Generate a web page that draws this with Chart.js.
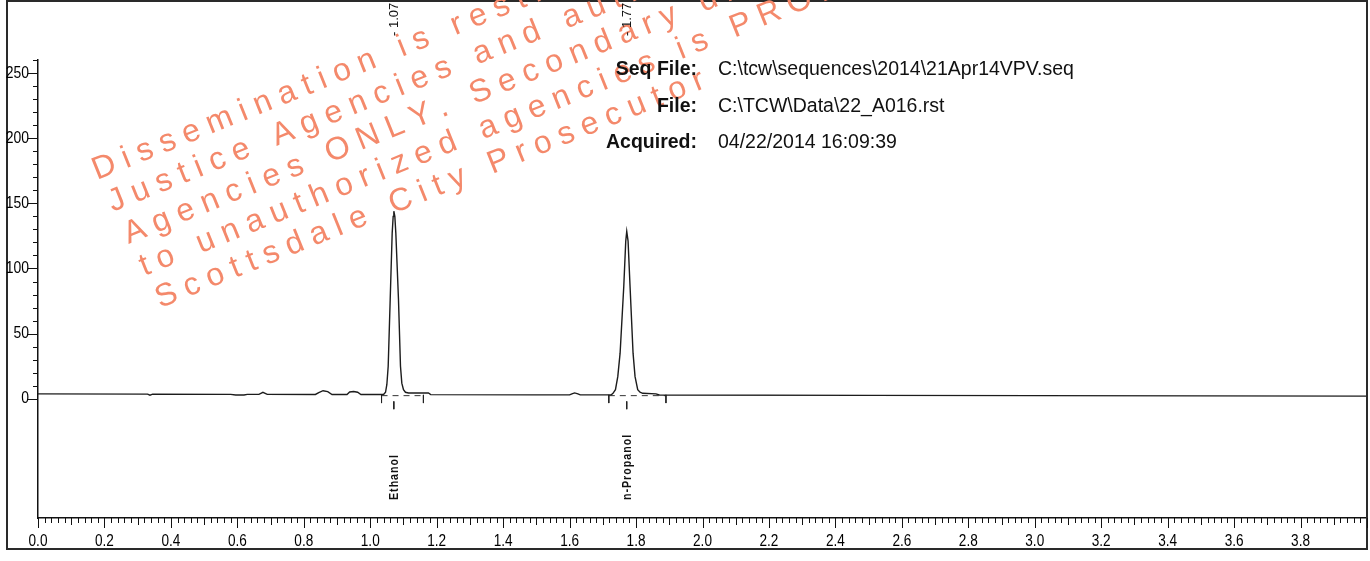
<!DOCTYPE html>
<html><head><meta charset="utf-8">
<script src="https://cdn.jsdelivr.net/npm/chart.js@4.4.1/dist/chart.umd.min.js"></script>
<style>html,body{margin:0;padding:0;background:#fff;overflow:hidden}#wrap{position:relative;width:1370px;height:561px}</style>
</head><body><div id="wrap"><canvas id="c" width="1370" height="561"></canvas></div>
<script>
// ---- data ----
const retentionTime = [0.00,0.33,0.337,0.345,0.58,0.595,0.62,0.63,0.665,0.677,0.69,0.835,0.845,0.858,0.872,0.885,0.93,0.938,0.95,0.962,0.972,
  1.040,1.046,1.050,1.054,1.060,1.066,1.069,1.071,1.074,1.077,1.085,1.091,1.095,1.100,1.106,1.115,1.175,1.182,
  1.50,1.60,1.607,1.615,1.625,1.632,1.725,1.730,1.738,1.745,1.752,1.763,1.769,1.772,1.776,1.782,1.791,1.797,1.805,1.812,1.820,1.860,1.870,
  2.50,3.50,4.00];
const signal = [3.8,3.6,2.8,3.6,3.4,2.9,2.9,3.4,3.4,4.9,3.4,3.3,4.8,6.2,5.5,3.3,3.3,5.2,5.6,5.0,3.3,
  3.3,5,11,25,76,127,140,144,140,127,76,25,12,7,5,4.4,4.4,3.2,
  3.0,3.0,3.8,4.5,3.8,3.0,3.0,4,7,17,35,86,121,128.5,121,86,35,17,7,5,4.2,3.8,2.9,
  2.6,2.2,2.0];
const peakApex = [1.071, 1.772];
const peakStart = [1.034, 1.718];
const peakEnd = [1.160, 1.890];
const peakLabels = ['- 1.07', '- 1.77'];
const compoundNames = ['Ethanol', 'n-Propanol'];
const xTickValues = [0.0,0.2,0.4,0.6,0.8,1.0,1.2,1.4,1.6,1.8,2.0,2.2,2.4,2.6,2.8,3.0,3.2,3.4,3.6,3.8];
const yTickValues = [0,50,100,150,200,250];
const headerLabels = ['Seq File:', 'File:', 'Acquired:'];
const headerValues = ['C:\\tcw\\sequences\\2014\\21Apr14VPV.seq', 'C:\\TCW\\Data\\22_A016.rst', '04/22/2014 16:09:39'];
const watermarkLines = [
  'Dissemination is restricted to Criminal',
  'Justice Agencies and authorized',
  'Agencies ONLY. Secondary dissemination',
  'to unauthorized agencies is PROHIBITED.',
  'Scottsdale City Prosecutor'
];

// ---- build datasets from arrays ----
const tracePts = retentionTime.map((t,i)=>({x:t, y:signal[i]}));
const markerPts = [];
peakStart.forEach((s,i)=>{
  markerPts.push({x:s,y:3},{x:s,y:-3.3},{x:s,y:null});
  markerPts.push({x:peakEnd[i],y:3},{x:peakEnd[i],y:-3.3},{x:peakEnd[i],y:null});
  markerPts.push({x:peakApex[i],y:-2},{x:peakApex[i],y:-8},{x:peakApex[i],y:null});
});
const basePts = [];
peakStart.forEach((s,i)=>{ basePts.push({x:s,y:2.4},{x:peakEnd[i],y:2.4},{x:peakEnd[i],y:null}); });

const SANS = "'Liberation Sans',Arial,sans-serif";

function spacedText(ctx, text, x, y, sp){
  let cx = x;
  for (const ch of text){ ctx.fillText(ch, cx, y); cx += ctx.measureText(ch).width + sp; }
}

const decor = {
  id: 'decor',
  afterDraw(chart){
    const ctx = chart.ctx, xs = chart.scales.x, ys = chart.scales.y, a = chart.chartArea;
    ctx.save();
    // outer frame
    ctx.strokeStyle = '#2a2a2a'; ctx.lineWidth = 2;
    ctx.strokeRect(7, 1, 1360, 548);
    // x ticks
    ctx.strokeStyle = '#111'; ctx.lineWidth = 1;
    ctx.beginPath();
    for (let i = 0; i <= 200; i++){
      const px = Math.round(xs.getPixelForValue(i*0.02)) + 0.5;
      const len = i%10===0 ? 10 : (i%5===0 ? 7 : 5);
      ctx.moveTo(px, a.bottom); ctx.lineTo(px, a.bottom + len);
    }
    // y ticks
    for (let v = 0; v <= 260; v += 10){
      const py = Math.round(ys.getPixelForValue(v)) + 0.5;
      const len = v%50===0 ? 10 : 5;
      ctx.moveTo(a.left, py); ctx.lineTo(a.left - len, py);
    }
    ctx.stroke();
    // tick labels (narrow)
    ctx.fillStyle = '#000';
    ctx.font = '17px ' + SANS;
    ctx.textBaseline = 'middle';
    xTickValues.forEach(v=>{
      ctx.save();
      ctx.translate(xs.getPixelForValue(v), 541);
      ctx.scale(0.8, 1);
      ctx.textAlign = 'center';
      ctx.fillText(v.toFixed(1), 0, 0);
      ctx.restore();
    });
    yTickValues.forEach(v=>{
      ctx.save();
      ctx.translate(a.left - 9, ys.getPixelForValue(v));
      ctx.scale(0.82, 1);
      ctx.textAlign = 'right';
      ctx.fillText(String(v), 0, 0);
      ctx.restore();
    });
    // watermark
    ctx.save();
    ctx.translate(97, 180);
    ctx.rotate(-22*Math.PI/180);
    ctx.fillStyle = '#f4896b';
    ctx.font = '32px ' + SANS;
    ctx.textBaseline = 'alphabetic'; ctx.textAlign = 'left';
    watermarkLines.forEach((ln, i)=> spacedText(ctx, ln, i*2.6, i*35.6, 8.5));
    ctx.restore();
    // peak retention labels (top)
    ctx.fillStyle = '#111';
    ctx.font = '13px ' + SANS;
    peakApex.forEach((t,i)=>{
      ctx.save();
      ctx.translate(xs.getPixelForValue(t) + 1, 36);
      ctx.rotate(-Math.PI/2);
      ctx.textAlign = 'left'; ctx.textBaseline = 'middle';
      ctx.fillText(peakLabels[i], 0, 0);
      ctx.restore();
    });
    // compound names
    ctx.font = 'bold 13px ' + SANS;
    peakApex.forEach((t,i)=>{
      ctx.save();
      ctx.translate(xs.getPixelForValue(t) + 1, 500);
      ctx.rotate(-Math.PI/2);
      ctx.scale(0.82, 1);
      ctx.textAlign = 'left'; ctx.textBaseline = 'middle';
      spacedText(ctx, compoundNames[i], 0, 0, 1.2);
      ctx.restore();
    });
    // header
    ctx.textBaseline = 'middle';
    headerLabels.forEach((lab,i)=>{
      const y = 70 + i*36.5;
      ctx.font = 'bold 19.5px ' + SANS; ctx.textAlign = 'right';
      ctx.fillText(lab, 697, y);
      ctx.font = '19.5px ' + SANS; ctx.textAlign = 'left';
      ctx.fillText(headerValues[i], 718, y);
    });
    ctx.restore();
  }
};

new Chart(document.getElementById('c'), {
  type: 'line',
  data: { datasets: [
    { data: tracePts, borderColor: '#1c1c1c', borderWidth: 1.4, pointRadius: 0, tension: 0, fill: false },
    { data: markerPts, borderColor: '#222', borderWidth: 1, pointRadius: 0, tension: 0, spanGaps: false },
    { data: basePts, borderColor: '#333', borderWidth: 1, borderDash: [6,5], pointRadius: 0, tension: 0, spanGaps: false }
  ]},
  options: {
    responsive: false, animation: false, devicePixelRatio: 1,
    layout: { padding: { left: 7, right: 3, top: 60, bottom: 0 } },
    plugins: { legend: { display: false }, tooltip: { enabled: false } },
    scales: {
      x: {
        type: 'linear', min: 0, max: 4,
        afterBuildTicks: s => { s.ticks = xTickValues.map(v => ({ value: v })); },
        afterFit: s => { s.height = 43; },
        ticks: { display: false },
        grid: { drawOnChartArea: false, drawTicks: false },
        border: { display: true, color: '#111', width: 1.5 }
      },
      y: {
        min: -91.5, max: 260,
        afterBuildTicks: s => { s.ticks = yTickValues.map(v => ({ value: v })); },
        afterFit: s => { s.width = 31; },
        ticks: { display: false },
        grid: { drawOnChartArea: false, drawTicks: false },
        border: { display: true, color: '#111', width: 1.5 }
      }
    }
  },
  plugins: [decor]
});
</script></body></html>
